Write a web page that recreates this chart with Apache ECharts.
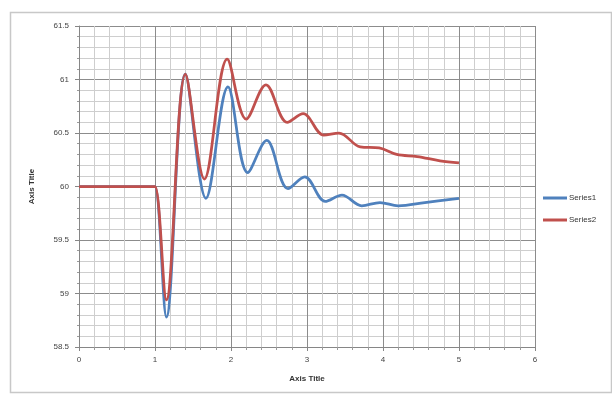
<!DOCTYPE html>
<html>
<head>
<meta charset="utf-8">
<script src="https://cdn.jsdelivr.net/npm/echarts@6/dist/echarts.min.js"></script>
<style>html,body{margin:0;padding:0;background:#fff;}#c{width:612px;height:396px;}</style>
</head>
<body>
<div id="c"></div>
<script>
var xTicks = [0, 1, 2, 3, 4, 5, 6];
var yTicks = [58.5, 59, 59.5, 60, 60.5, 61, 61.5];
var series1X = [0, 0.5, 0.95, 1.0, 1.15, 1.4, 1.67, 1.96, 2.22, 2.47, 2.75, 2.97, 3.24, 3.46, 3.72, 3.96, 4.2, 4.55, 5.0];
var series1Y = [60, 60, 60, 60, 58.78, 61.05, 59.89, 60.93, 60.13, 60.43, 59.98, 60.09, 59.86, 59.92, 59.82, 59.85, 59.82, 59.85, 59.89];
var series2X = [0, 0.5, 0.95, 1.0, 1.15, 1.4, 1.65, 1.95, 2.2, 2.46, 2.74, 2.95, 3.22, 3.42, 3.7, 3.95, 4.18, 4.45, 4.75, 5.0];
var series2Y = [60, 60, 60, 60, 58.94, 61.05, 60.07, 61.19, 60.63, 60.95, 60.6, 60.68, 60.48, 60.5, 60.37, 60.36, 60.3, 60.28, 60.24, 60.22];
var seriesNames = ['Series1', 'Series2'];
var seriesColors = ['#4F81BD', '#C0504D'];

function pairs(xs, ys) { return xs.map(function (x, i) { return [x, ys[i]]; }); }

var chart = echarts.init(document.getElementById('c'), null, { renderer: 'canvas' });
var font = 'Liberation Sans, Arial, sans-serif';
chart.setOption({
  animation: false,
  backgroundColor: '#ffffff',
  graphic: [{
    type: 'rect', left: 8, top: 10, shape: { width: 601, height: 380 },
    style: { fill: 'none', stroke: '#c8c8c8', lineWidth: 1.5 }, silent: true, z: -1
  }],
  grid: { left: 79, right: 77, top: 26, bottom: 49, containLabel: false },
  legend: {
    orient: 'vertical', left: 538, top: 189, itemWidth: 24, itemHeight: 3, itemGap: 14,
    icon: 'rect',
    textStyle: { fontSize: 8, fontFamily: font, color: '#333', padding: [0, 0, 0, -3] },
    data: seriesNames
  },
  xAxis: {
    type: 'value', min: 0, max: 6, interval: 1,
    name: 'Axis Title', nameLocation: 'middle', nameGap: 28,
    nameTextStyle: { fontSize: 8, fontWeight: 'bold', fontFamily: font, color: '#333' },
    axisLine: { show: true, onZero: false, lineStyle: { color: '#868686', width: 1 } },
    axisTick: { show: true, length: 4, inside: false, lineStyle: { color: '#868686' } },
    minorTick: { show: true, splitNumber: 5, length: 3, lineStyle: { color: '#9a9a9a' } },
    axisLabel: { fontSize: 8, fontFamily: font, color: '#444', margin: 9 },
    splitLine: { show: true, lineStyle: { color: '#8c8c8c', width: 1 } },
    minorSplitLine: { show: true, lineStyle: { color: '#cecece', width: 1 } }
  },
  yAxis: {
    type: 'value', min: 58.5, max: 61.5, interval: 0.5,
    name: 'Axis Title', nameLocation: 'middle', nameGap: 43, nameRotate: 90,
    nameTextStyle: { fontSize: 8, fontWeight: 'bold', fontFamily: font, color: '#333' },
    axisLine: { show: true, lineStyle: { color: '#868686', width: 1 } },
    axisTick: { show: true, length: 4, lineStyle: { color: '#868686' } },
    minorTick: { show: true, splitNumber: 5, length: 2, lineStyle: { color: '#9a9a9a' } },
    axisLabel: { fontSize: 8, fontFamily: font, color: '#444', margin: 10 },
    splitLine: { show: true, lineStyle: { color: '#8c8c8c', width: 1 } },
    minorSplitLine: { show: true, lineStyle: { color: '#cecece', width: 1 } }
  },
  series: [
    { name: seriesNames[0], type: 'line', data: pairs(series1X, series1Y), smooth: 0.35, showSymbol: false, symbol: 'none',
      lineStyle: { color: seriesColors[0], width: 2.75 }, itemStyle: { color: seriesColors[0] }, z: 3 },
    { name: seriesNames[1], type: 'line', data: pairs(series2X, series2Y), smooth: 0.35, showSymbol: false, symbol: 'none',
      lineStyle: { color: seriesColors[1], width: 2.75 }, itemStyle: { color: seriesColors[1] }, z: 4 }
  ]
});
</script>
</body>
</html>
